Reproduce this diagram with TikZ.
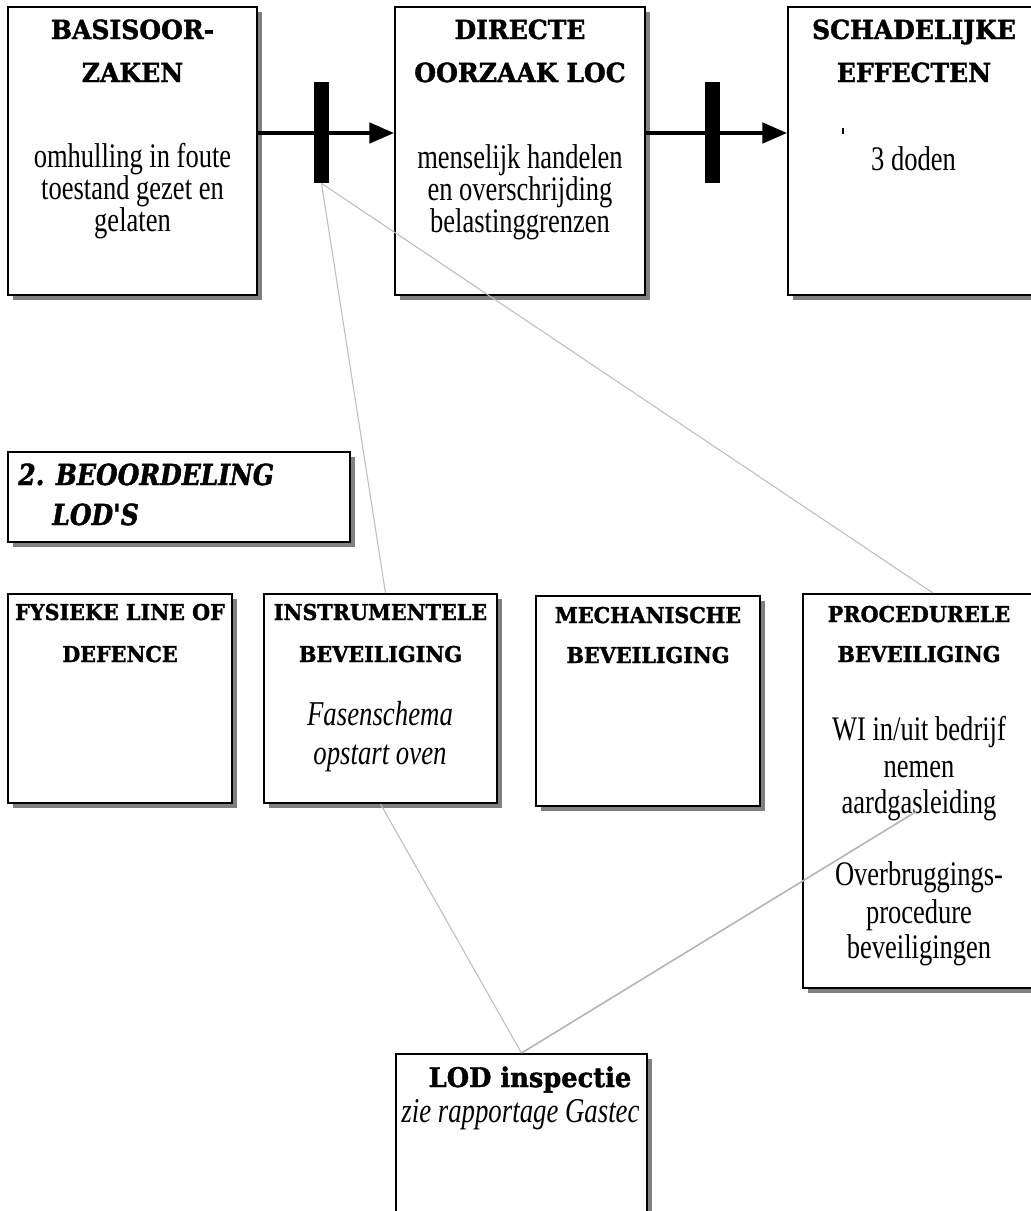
\documentclass[tikz,border=0pt]{standalone}
\usepackage{fontspec}
\newfontfamily\bodyfont{Liberation Serif}[FakeStretch=0.77]
\newfontfamily\headfont{DejaVu Serif}[FakeStretch=0.95, BoldFeatures={FakeBold=1.5}]
\newfontfamily\titlefont{DejaVu Serif}[FakeStretch=0.86, BoldItalicFeatures={FakeBold=1.5}]
\usetikzlibrary{arrows.meta,calc,fit,shadows}
\definecolor{shade}{HTML}{808080}
\definecolor{linkgray}{HTML}{BDBDBD}
\tikzset{
  panel/.style={draw=black, line width=1.1pt, fill=white, inner sep=0pt,
    general shadow={fill=shade, shadow xshift=2.85pt, shadow yshift=-2.85pt}},
  barrier/.style={fill=black, draw=none, inner sep=0pt},
  flow/.style={line width=2.3pt, -{Triangle[length=14pt, width=11.5pt]}},
  link/.style={draw=linkgray, line width=0.6pt},
  linkthick/.style={draw=linkgray!95!black, line width=0.9pt},
  head/.style={font=\headfont\bfseries\fontsize{15}{18}\selectfont, anchor=base, inner sep=0pt},
  subhead/.style={font=\headfont\bfseries\fontsize{12.4}{15}\selectfont, anchor=base, inner sep=0pt},
  titlehead/.style={font=\titlefont\bfseries\itshape\fontsize{16.5}{20}\selectfont, anchor=base west, inner sep=0pt},
  lodhead/.style={font=\headfont\bfseries\fontsize{15.4}{19}\selectfont, anchor=base, inner sep=0pt},
  body/.style={font=\bodyfont\fontsize{19.6}{22}\selectfont, anchor=base, inner sep=0pt},
  bodyit/.style={font=\bodyfont\itshape\fontsize{19.8}{22}\selectfont, anchor=base, inner sep=0pt},
}
\begin{document}
\begin{tikzpicture}[x=0.02cm, y=-0.02cm]
\useasboundingbox (0,0) rectangle (1031,1211);

% top row: causes, direct cause, harmful effects
\node[panel, fit={(8,7) (257,295)}] (b1) {};
\node[panel, fit={(395,7) (645,295)}] (b2) {};
\node[panel, fit={(788,7) (1040,295)}] (b3) {};

\node[head] (b1h1) at (132.5,39) {BASISOOR-};
\node[head] (b1h2) at (132.5,82) {ZAKEN};
\node[body] (b1t1) at (132.5,167) {omhulling in foute};
\node[body] (b1t2) at (132.5,199) {toestand gezet en};
\node[body] (b1t3) at (132.5,231) {gelaten};

\node[head] (b2h1) at (520,39) {DIRECTE};
\node[head] (b2h2) at (520,82) {OORZAAK LOC};
\node[body] (b2t1) at (520,168) {menselijk handelen};
\node[body] (b2t2) at (520,200) {en overschrijding};
\node[body] (b2t3) at (520,232) {belastinggrenzen};

\node[head] (b3h1) at (914,39) {SCHADELIJKE};
\node[head] (b3h2) at (914,82) {EFFECTEN};
\draw[line width=0.6pt] (843,128) -- (843,134);
\node[body] (b3t1) at (913.5,170) {3 doden};

% arrows with barriers
\draw[flow] ($(b1.east)+(0,-18)$) -- ($(b2.west)+(0,-18)$);
\draw[flow] ($(b2.east)+(0,-18)$) -- ($(b3.west)+(0,-18)$);
\node[barrier, fit={(314,82) (329,183)}] (k1) {};
\node[barrier, fit={(705,82) (720,183)}] (k2) {};

% section title
\node[panel, fit={(8,452) (350,542)}] (ttl) {};
\node[titlehead] (ttl1) at (18,485) {2. BEOORDELING};
\node[titlehead] (ttl2) at (52,525) {LOD'S};

% lines of defence
\node[panel, fit={(8,594) (232,803)}] (f1) {};
\node[panel, fit={(264,594) (497,803)}] (f2) {};
\node[panel, fit={(536,596) (760,806)}] (f3) {};
\node[panel, fit={(803,594) (1033,988)}] (f4) {};

\node[subhead] (f1h1) at (120,620) {FYSIEKE LINE OF};
\node[subhead] (f1h2) at (120,662) {DEFENCE};

\node[subhead] (f2h1) at (380.5,620) {INSTRUMENTELE};
\node[subhead] (f2h2) at (380.5,662) {BEVEILIGING};
\node[bodyit] (f2t1) at (380,725) {Fasenschema};
\node[bodyit] (f2t2) at (380,764) {opstart oven};

\node[subhead] (f3h1) at (648,623) {MECHANISCHE};
\node[subhead] (f3h2) at (648,663) {BEVEILIGING};

\node[subhead] (f4h1) at (919,622) {PROCEDURELE};
\node[subhead] (f4h2) at (919,662) {BEVEILIGING};
\node[body] (f4t1) at (919,740) {WI in/uit bedrijf};
\node[body] (f4t2) at (919,777) {nemen};
\node[body] (f4t3) at (919,813) {aardgasleiding};
\node[body] (f4t4) at (919,885) {Overbruggings-};
\node[body] (f4t5) at (919,923) {procedure};
\node[body] (f4t6) at (919,958) {beveiligingen};

% inspection box
\node[panel, fit={(396,1054) (647,1290)}] (lod) {};
\node[lodhead] (lodh) at (530,1087) {LOD inspectie};
\node[bodyit] (lodt) at (520.5,1122) {zie rapportage Gastec};

% relation lines
\draw[link] (k1.south) -- ($(f2.north)+(5,0)$);
\draw[link] (k1.south) -- ($(f4.north)+(15,0)$);
\draw[link] (f2.south) -- (lod.north);
\draw[linkthick] (lod.north) -- ($(f4.north)+(-1,218)$);
\end{tikzpicture}
\end{document}
